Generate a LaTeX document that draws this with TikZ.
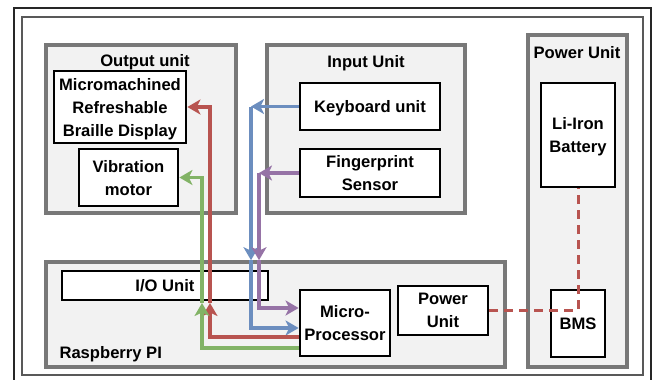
\documentclass[tikz,border=0pt]{standalone}
\usepackage{fontspec}
\setmainfont{Liberation Sans}
\usetikzlibrary{arrows.meta}

\definecolor{unitgray}{HTML}{787878}
\definecolor{unitfill}{HTML}{F2F2F2}
\definecolor{wirered}{HTML}{B85450}
\definecolor{wireblue}{HTML}{6C8EBF}
\definecolor{wirepurple}{HTML}{9673A6}
\definecolor{wiregreen}{HTML}{82B366}

\begin{document}
\begin{tikzpicture}[x=1pt,y=-1pt,font=\fontsize{16.6}{23}\selectfont\bfseries,text depth=0pt,
	unit/.style={draw=unitgray, line width=3.6pt, fill=unitfill, inner sep=0pt},
	part/.style={draw=black, line width=2.8pt, fill=white, align=center, inner sep=0pt},
	wire/.style={line width=3.2pt, -{Stealth[length=13pt,width=15pt,inset=3.5pt]}},
	]

	\path[fill=white, use as bounding box] (0,0) rectangle (657,380);

	% Rahmen
	\draw[line width=1.6pt, black!85] (14,8) rectangle (651,392);
	\draw[line width=2pt, black!65] (22,17) rectangle (643,375);

	% Output unit
	\node[unit, minimum width=190pt, minimum height=168pt] (out) at (141,129) {};
	\node (outtitle) at (145,60) {Output unit};
	\node[part, minimum width=132pt, minimum height=72pt] (braille) at (120,107)
		{Micromachined\\Refreshable\\Braille Display};
	\node[part, minimum width=99pt, minimum height=57pt] (vib) at (128.5,177.5) {Vibration\\motor};

	% Input Unit
	\node[unit, minimum width=198pt, minimum height=168pt] (inp) at (366,129) {};
	\node (intitle) at (366,61) {Input Unit};
	\node[part, minimum width=140pt, minimum height=47pt] (kbd) at (370,106.5) {Keyboard unit};
	\node[part, minimum width=140pt, minimum height=48pt] (fp) at (370,173) {Fingerprint\\Sensor};

	% Power Unit
	\node[unit, minimum width=99pt, minimum height=332pt] (pwr) at (577.5,201) {};
	\node (pwrtitle) at (577,52) {Power Unit};
	\node[part, minimum width=74pt, minimum height=104pt] (batt) at (578,135) {Li-Iron\\Battery};
	\node[part, minimum width=54pt, minimum height=67pt] (bms) at (578,323.5) {BMS};

	% Raspberry PI
	\node[unit, minimum width=459pt, minimum height=105pt] (rpi) at (275.5,314.5) {};
	\node[anchor=west] (rpititle) at (56,352) {Raspberry PI};
	\node[part, minimum width=206pt, minimum height=29pt] (io) at (165,285.5) {I/O Unit};
	\node[part, minimum width=90pt, minimum height=66pt] (mp) at (345,323) {Micro-\\Processor};
	\node[part, minimum width=90pt, minimum height=49pt] (pu) at (443,310.5) {Power\\Unit};

	% Knickpunkte
	\coordinate (bluex) at (251,0);
	\coordinate (purplex) at (259,0);
	\coordinate (redup) at (210,303);
	\coordinate (greenup) at (202,303);

	% Eingaben -> Prozessor
	\draw[wire, wireblue] (kbd.west) -- (kbd.west -| bluex);
	\draw[wire, wireblue] (kbd.west -| bluex) -- (bluex |- rpi.north);
	\draw[wire, wireblue] (bluex |- rpi.north) |- ([yshift=-5pt]mp.west);
	\draw[wire, wirepurple] (fp.west) -- (fp.west -| purplex);
	\draw[wire, wirepurple] (fp.west -| purplex) -- (purplex |- rpi.north);
	\draw[wire, wirepurple] (purplex |- rpi.north) |- ([yshift=15pt]mp.west);

	% Prozessor -> Ausgaben
	\draw[wire, wirered] ([yshift=-14pt]mp.west) -| (redup);
	\draw[wire, wirered] (redup) |- (braille.east);
	\draw[wire, wiregreen] ([yshift=-25pt]mp.west) -| (greenup);
	\draw[wire, wiregreen] (greenup) |- (vib.east);

	% Versorgung
	\draw[wirered, line width=3pt, dash pattern=on 9pt off 6pt] (pu.east) -| (batt.south);
\end{tikzpicture}
\end{document}
